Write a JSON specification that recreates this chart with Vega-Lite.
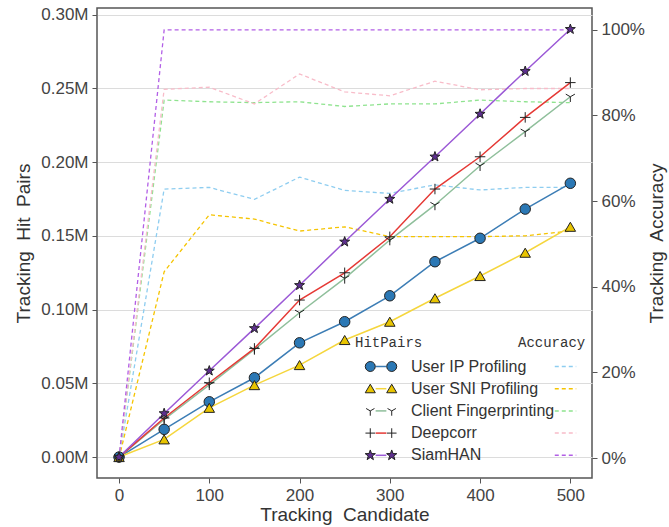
{
  "$schema": "https://vega.github.io/schema/vega-lite/v6.json",
  "width": 495,
  "height": 470,
  "autosize": {"type": "none"},
  "padding": {"left": 97, "top": 8, "right": 77, "bottom": 49},
  "background": "white",
  "config": {
    "view": {"stroke": "#555", "strokeWidth": 1.5},
    "font": "Liberation Sans",
    "axis": {
      "labelFont": "Liberation Sans", "titleFont": "Liberation Sans",
      "labelFontSize": 17, "titleFontSize": 19, "labelColor": "#444", "titleColor": "#333",
      "titleFontWeight": "normal", "tickColor": "#555", "tickSize": 5, "labelPadding": 4,
      "domain": false, "grid": false
    },
    "legend": {
      "labelFont": "Liberation Sans", "labelFontSize": 16, "labelColor": "#333",
      "titleFont": "Liberation Mono", "titleFontSize": 14, "titleFontWeight": "normal", "titleColor": "#333",
      "rowPadding": 2.2, "padding": 0, "titlePadding": 5
    }
  },
  "data": {"values": [
    {"candidate": 0, "method": "User IP Profiling", "pairs": 0, "accuracy": 0},
    {"candidate": 50, "method": "User IP Profiling", "pairs": 0.0188, "accuracy": 62.8},
    {"candidate": 100, "method": "User IP Profiling", "pairs": 0.0375, "accuracy": 63.2},
    {"candidate": 150, "method": "User IP Profiling", "pairs": 0.0538, "accuracy": 60.4},
    {"candidate": 200, "method": "User IP Profiling", "pairs": 0.0775, "accuracy": 65.6},
    {"candidate": 250, "method": "User IP Profiling", "pairs": 0.0918, "accuracy": 62.5},
    {"candidate": 300, "method": "User IP Profiling", "pairs": 0.1094, "accuracy": 61.8},
    {"candidate": 350, "method": "User IP Profiling", "pairs": 0.1325, "accuracy": 63.8},
    {"candidate": 400, "method": "User IP Profiling", "pairs": 0.1484, "accuracy": 62.6},
    {"candidate": 450, "method": "User IP Profiling", "pairs": 0.1682, "accuracy": 63.2},
    {"candidate": 500, "method": "User IP Profiling", "pairs": 0.1857, "accuracy": 63.2},
    {"candidate": 0, "method": "User SNI Profiling", "pairs": 0, "accuracy": 0},
    {"candidate": 50, "method": "User SNI Profiling", "pairs": 0.012, "accuracy": 43.5},
    {"candidate": 100, "method": "User SNI Profiling", "pairs": 0.0334, "accuracy": 56.8},
    {"candidate": 150, "method": "User SNI Profiling", "pairs": 0.0488, "accuracy": 55.8},
    {"candidate": 200, "method": "User SNI Profiling", "pairs": 0.0624, "accuracy": 53.0},
    {"candidate": 250, "method": "User SNI Profiling", "pairs": 0.0794, "accuracy": 54.0},
    {"candidate": 300, "method": "User SNI Profiling", "pairs": 0.0918, "accuracy": 51.7},
    {"candidate": 350, "method": "User SNI Profiling", "pairs": 0.1077, "accuracy": 51.7},
    {"candidate": 400, "method": "User SNI Profiling", "pairs": 0.1228, "accuracy": 51.7},
    {"candidate": 450, "method": "User SNI Profiling", "pairs": 0.1386, "accuracy": 51.9},
    {"candidate": 500, "method": "User SNI Profiling", "pairs": 0.1562, "accuracy": 53.0},
    {"candidate": 0, "method": "Client Fingerprinting", "pairs": 0, "accuracy": 0},
    {"candidate": 50, "method": "Client Fingerprinting", "pairs": 0.0255, "accuracy": 83.6},
    {"candidate": 100, "method": "Client Fingerprinting", "pairs": 0.049, "accuracy": 83.2},
    {"candidate": 150, "method": "Client Fingerprinting", "pairs": 0.073, "accuracy": 83.0},
    {"candidate": 200, "method": "Client Fingerprinting", "pairs": 0.0979, "accuracy": 83.2},
    {"candidate": 250, "method": "Client Fingerprinting", "pairs": 0.1212, "accuracy": 82.1},
    {"candidate": 300, "method": "Client Fingerprinting", "pairs": 0.1472, "accuracy": 82.7},
    {"candidate": 350, "method": "Client Fingerprinting", "pairs": 0.171, "accuracy": 82.7},
    {"candidate": 400, "method": "Client Fingerprinting", "pairs": 0.1976, "accuracy": 83.6},
    {"candidate": 450, "method": "Client Fingerprinting", "pairs": 0.2207, "accuracy": 83.2},
    {"candidate": 500, "method": "Client Fingerprinting", "pairs": 0.2444, "accuracy": 83.0},
    {"candidate": 0, "method": "Deepcorr", "pairs": 0, "accuracy": 0},
    {"candidate": 50, "method": "Deepcorr", "pairs": 0.0265, "accuracy": 86.1},
    {"candidate": 100, "method": "Deepcorr", "pairs": 0.0504, "accuracy": 86.6},
    {"candidate": 150, "method": "Deepcorr", "pairs": 0.0737, "accuracy": 82.7},
    {"candidate": 200, "method": "Deepcorr", "pairs": 0.1065, "accuracy": 89.7},
    {"candidate": 250, "method": "Deepcorr", "pairs": 0.125, "accuracy": 85.5},
    {"candidate": 300, "method": "Deepcorr", "pairs": 0.1494, "accuracy": 84.6},
    {"candidate": 350, "method": "Deepcorr", "pairs": 0.1818, "accuracy": 88.0},
    {"candidate": 400, "method": "Deepcorr", "pairs": 0.2037, "accuracy": 86.0},
    {"candidate": 450, "method": "Deepcorr", "pairs": 0.2304, "accuracy": 86.3},
    {"candidate": 500, "method": "Deepcorr", "pairs": 0.254, "accuracy": 86.3},
    {"candidate": 0, "method": "SiamHAN", "pairs": 0, "accuracy": 0},
    {"candidate": 50, "method": "SiamHAN", "pairs": 0.0296, "accuracy": 100},
    {"candidate": 100, "method": "SiamHAN", "pairs": 0.0585, "accuracy": 100},
    {"candidate": 150, "method": "SiamHAN", "pairs": 0.0873, "accuracy": 100},
    {"candidate": 200, "method": "SiamHAN", "pairs": 0.1165, "accuracy": 100},
    {"candidate": 250, "method": "SiamHAN", "pairs": 0.146, "accuracy": 100},
    {"candidate": 300, "method": "SiamHAN", "pairs": 0.175, "accuracy": 100},
    {"candidate": 350, "method": "SiamHAN", "pairs": 0.2037, "accuracy": 100},
    {"candidate": 400, "method": "SiamHAN", "pairs": 0.2327, "accuracy": 100},
    {"candidate": 450, "method": "SiamHAN", "pairs": 0.2617, "accuracy": 100},
    {"candidate": 500, "method": "SiamHAN", "pairs": 0.2902, "accuracy": 100}
  ]},
  "encoding": {
    "x": {
      "field": "candidate", "type": "quantitative",
      "scale": {"domain": [-24.4, 524], "nice": false, "zero": false},
      "axis": {"values": [0, 100, 200, 300, 400, 500], "title": "Tracking\u00a0 Candidate", "titlePadding": 2}
    }
  },
  "layer": [
    {
      "mark": {"type": "line", "strokeDash": [4, 3], "strokeWidth": 1.3},
      "encoding": {
        "y": {
          "field": "accuracy", "type": "quantitative",
          "scale": {"domain": [-4.67, 105.1], "nice": false, "zero": false},
          "axis": {"orient": "right", "values": [0, 20, 40, 60, 80, 100], "labelExpr": "datum.value + '%'",
                   "title": "Tracking\u00a0 Accuracy", "titleAngle": 270, "titleBaseline": "top", "titlePadding": 3, "grid": false}
        },
        "color": {
          "field": "method", "type": "nominal",
          "scale": {"domain": ["User IP Profiling", "User SNI Profiling", "Client Fingerprinting", "Deepcorr", "SiamHAN"],
                    "range": ["#8ecdf0", "#f5c400", "#8fe38f", "#f8bcc9", "#b25fe6"]},
          "legend": {"orient": "none", "legendX": 421, "legendY": 328, "title": "Accuracy",
                     "symbolType": "stroke", "symbolSize": 460, "symbolDash": [4, 3], "symbolStrokeWidth": 1.5,
                     "symbolOffset": 36, "labelExpr": "''"}
        }
      }
    },
    {
      "layer": [
        {
          "mark": {"type": "line", "strokeWidth": 1.5},
          "encoding": {
            "y": {
              "field": "pairs", "type": "quantitative",
              "scale": {"domain": [-0.0142, 0.3046], "nice": false, "zero": false},
              "axis": {"orient": "left", "values": [0, 0.05, 0.1, 0.15, 0.2, 0.25, 0.3],
                       "labelExpr": "format(datum.value, '.2f') + 'M'", "title": "Tracking\u00a0 Hit\u00a0 Pairs",
                       "titlePadding": 7, "grid": true, "gridColor": "#dcdcdc", "gridWidth": 1}
            },
            "color": {
              "field": "method", "type": "nominal",
              "scale": {"domain": ["User IP Profiling", "User SNI Profiling", "Client Fingerprinting", "Deepcorr", "SiamHAN"],
                        "range": ["#3c7db5", "#f5d63d", "#8fbf9b", "#e53935", "#9b59d6"]},
              "legend": {"orient": "none", "legendX": 258, "legendY": 328, "title": "HitPairs", "titleColor": "transparent",
                         "symbolType": "M-0.5,0L0.5,0", "symbolSize": 460, "symbolStrokeWidth": 1.5,
                         "symbolOffset": 14.5, "labelOffset": 18.5, "labelColor": "transparent"}
            }
          }
        },
        {
          "mark": {"type": "point", "filled": true, "stroke": "#222", "strokeWidth": 1, "size": 110, "opacity": 1},
          "encoding": {
            "y": {"field": "pairs", "type": "quantitative"},
            "shape": {
              "field": "method", "type": "nominal",
              "scale": {"domain": ["User IP Profiling", "User SNI Profiling", "Client Fingerprinting", "Deepcorr", "SiamHAN"],
                        "range": ["circle", "triangle-up", "M0,0L0,1M0,0L-0.87,-0.5M0,0L0.87,-0.5", "M-1,0L1,0M0,-1L0,1", "M0,-1L0.235,-0.324L0.951,-0.309L0.38,0.124L0.588,0.809L0,0.4L-0.588,0.809L-0.38,0.124L-0.951,-0.309L-0.235,-0.324Z"]},
              "legend": null
            },
            "fill": {
              "field": "method", "type": "nominal",
              "scale": {"domain": ["User IP Profiling", "User SNI Profiling", "Client Fingerprinting", "Deepcorr", "SiamHAN"],
                        "range": ["#2b78b5", "#e8c400", "#222222", "#222222", "#5e2f8f"]},
              "legend": null
            }
          }
        },
        {
          "transform": [{"filter": "datum.candidate == 0"}],
          "mark": {"type": "point", "filled": true, "stroke": "#222", "strokeWidth": 1, "opacity": 1, "size": 0},
          "encoding": {
            "y": {"field": "pairs", "type": "quantitative"},
            "shape": {
              "field": "method", "type": "nominal",
              "scale": {"domain": ["User IP Profiling", "User SNI Profiling", "Client Fingerprinting", "Deepcorr", "SiamHAN"],
                        "range": [
                          "M-0.53,0L-0.593,0.235L-0.765,0.407L-1,0.47L-1.235,0.407L-1.407,0.235L-1.47,0L-1.407,-0.235L-1.235,-0.407L-1,-0.47L-0.765,-0.407L-0.593,-0.235Z M1.47,0L1.407,0.235L1.235,0.407L1,0.47L0.765,0.407L0.593,0.235L0.53,0L0.593,-0.235L0.765,-0.407L1,-0.47L1.235,-0.407L1.407,-0.235Z",
                          "M-1,-0.42L-1.47,0.38L-0.53,0.38Z M1,-0.42L0.53,0.38L1.47,0.38Z",
                          "M-1,0L-1,0.45M-1,0L-1.39,-0.225M-1,0L-0.61,-0.225M1,0L1,0.45M1,0L0.61,-0.225M1,0L1.39,-0.225",
                          "M-1.45,0L-0.55,0M-1,-0.45L-1,0.45M0.55,0L1.45,0M1,-0.45L1,0.45",
                          "M-1,-0.5L-0.882,-0.162L-0.524,-0.155L-0.81,0.062L-0.706,0.405L-1,0.2L-1.294,0.405L-1.19,0.062L-1.476,-0.155L-1.118,-0.162Z M1,-0.5L1.118,-0.162L1.476,-0.155L1.19,0.062L1.294,0.405L1,0.2L0.706,0.405L0.81,0.062L0.524,-0.155L0.882,-0.162Z"
                        ]},
              "legend": {"orient": "none", "legendX": 258, "legendY": 328, "title": "HitPairs",
                         "symbolSize": 460, "symbolStrokeColor": "#222", "symbolStrokeWidth": 1, "symbolOpacity": 1,
                         "symbolOffset": 14.5, "labelOffset": 18.5,
                         "encode": {"symbols": {"update": {"stroke": {"value": "#222"}, "strokeWidth": {"value": 1}, "opacity": {"value": 1}}}}}
            },
            "fill": {
              "field": "method", "type": "nominal",
              "scale": {"domain": ["User IP Profiling", "User SNI Profiling", "Client Fingerprinting", "Deepcorr", "SiamHAN"],
                        "range": ["#2b78b5", "#e8c400", "#222222", "#222222", "#5e2f8f"]},
              "legend": {"orient": "none", "legendX": 258, "legendY": 328, "title": "HitPairs",
                         "symbolSize": 460, "symbolStrokeColor": "#222", "symbolStrokeWidth": 1, "symbolOpacity": 1,
                         "symbolOffset": 14.5, "labelOffset": 18.5,
                         "encode": {"symbols": {"update": {"stroke": {"value": "#222"}, "strokeWidth": {"value": 1}, "opacity": {"value": 1}}}}}
            }
          }
        }
      ],
      "resolve": {"scale": {"shape": "independent", "fill": "independent"}, "legend": {"shape": "independent", "fill": "independent"}}
    }
  ],
  "resolve": {"scale": {"y": "independent", "color": "independent"}, "legend": {"color": "independent"}}
}
